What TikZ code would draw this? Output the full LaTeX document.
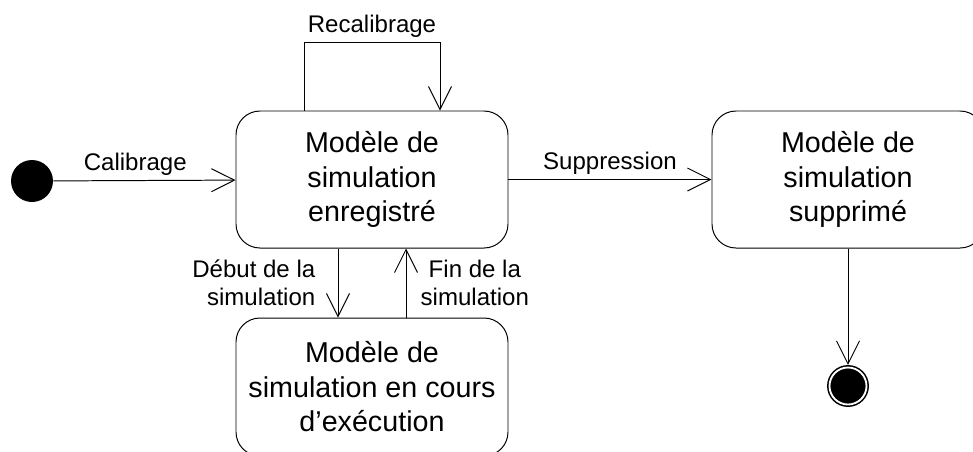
\documentclass[tikz,border=0pt]{standalone}
\usepackage{fontspec}
\setmainfont{Liberation Sans}
\usetikzlibrary{arrows.meta,positioning,calc}

\begin{document}
\begin{tikzpicture}[
    state/.style={draw, rounded corners=0.6cm, minimum width=6.8cm, minimum height=3.425cm, align=center, font=\fontsize{20.4}{24.5}\selectfont, line width=0.7pt},
    initst/.style={circle, fill=black, minimum size=1.05cm, inner sep=0pt},
    finalst/.style={circle, draw=black, fill=black, double=white, double distance=1.3pt, line width=1.1pt, minimum size=0.925cm, inner sep=0pt, outer sep=1.8pt},
    arr/.style={-{Straight Barb[length=0.575cm, width=0.575cm, line width=0.7pt]}, line width=0.7pt},
    lbl/.style={font=\fontsize{17.1}{19.9}\selectfont, inner sep=3pt}
]
\useasboundingbox (0,0) rectangle (24.325,-11.275);

\node[initst] (init) at (0.8,-4.525) {};
\node[state] (enreg) at (9.3,-4.4875) {Modèle de\\simulation\\enregistré};
\node[state] (suppr) at (21.2,-4.4875) {Modèle de\\simulation\\supprimé};
\node[state, minimum height=3.45cm] (cours) at (9.3,-9.675) {Modèle de\\simulation en cours\\d’exécution};
\node[finalst] (fin) at (21.2,-9.65) {};

\draw[arr] (init) -- node[lbl, above, pos=0.45] {Calibrage} (enreg);
\draw[arr] (enreg) -- node[lbl, above] {Suppression} (suppr);
\draw[arr] ([xshift=-1.7cm]enreg.north) -- ++(0,1.7) -| node[lbl, above, pos=0.25] {Recalibrage} ([xshift=1.7cm]enreg.north);
\draw[arr] ([xshift=-0.85cm]enreg.south) -- node[lbl, left, align=right, xshift=-0.45cm] {Début de la\\simulation} ([xshift=-0.85cm]enreg.south |- cours.north);
\draw[arr] ([xshift=0.85cm]enreg.south |- cours.north) -- node[lbl, right, align=center, xshift=0.25cm] {Fin de la\\simulation} ([xshift=0.85cm]enreg.south);
\draw[arr] (suppr) -- (fin);
\end{tikzpicture}
\end{document}
